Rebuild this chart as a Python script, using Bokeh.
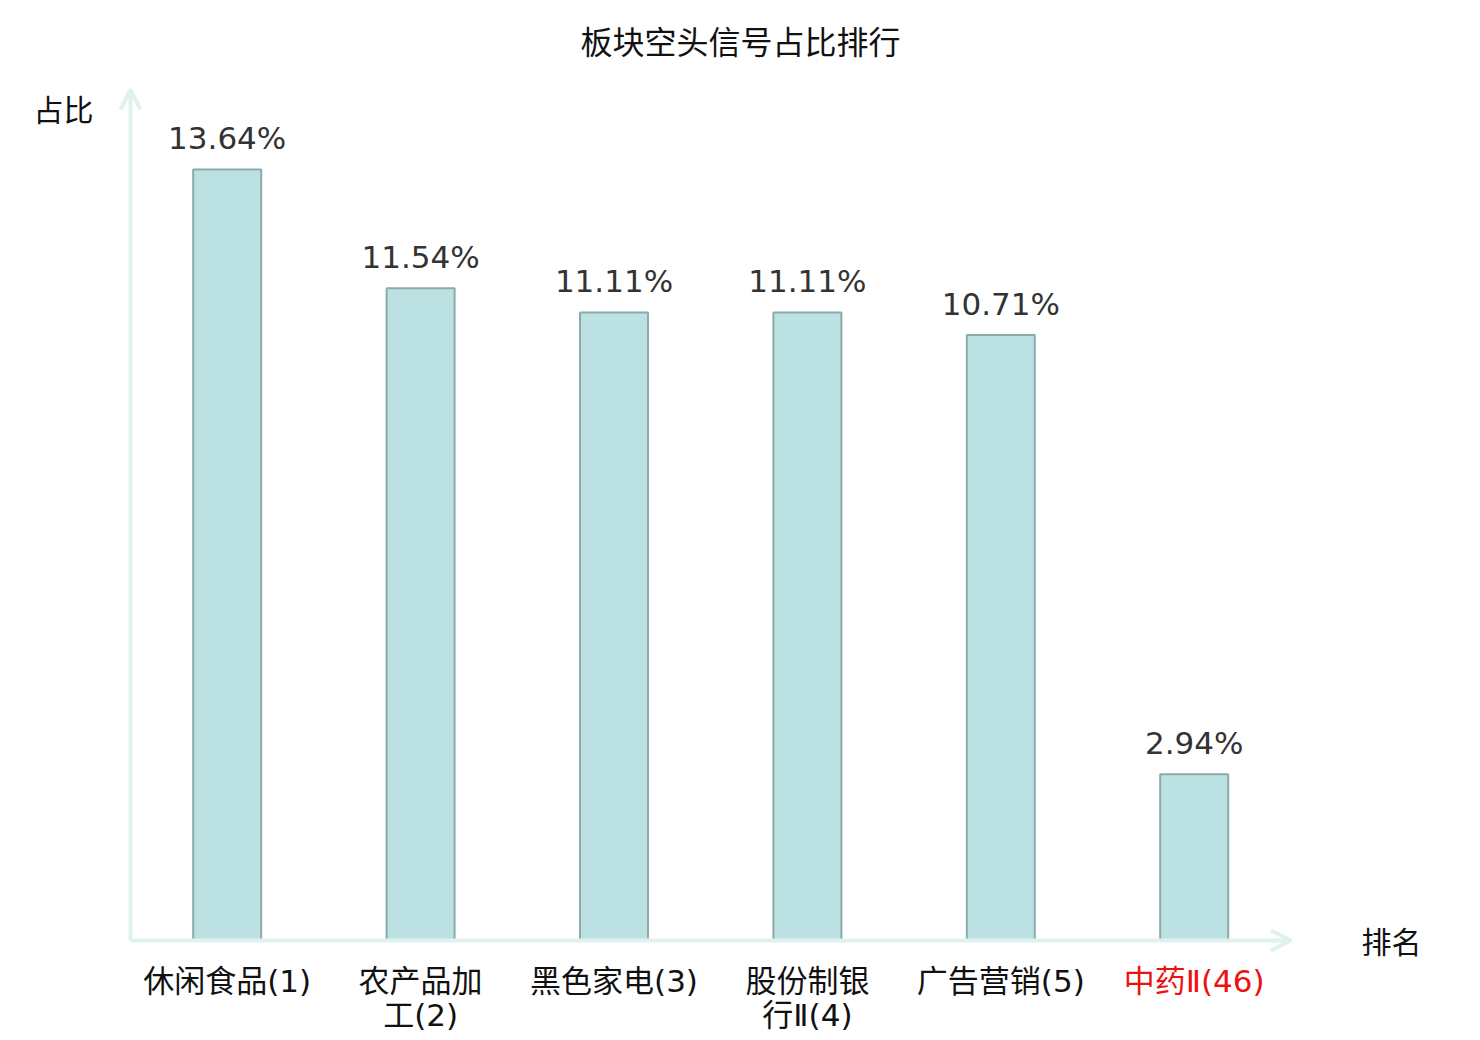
from bokeh.plotting import figure
from bokeh.models import ColumnDataSource, Range1d, Arrow, OpenHead, Label
from bokeh.core.properties import value
from bokeh.embed import file_html
from bokeh.resources import INLINE

categories = ["休闲食品(1)", "农产品加\n工(2)", "黑色家电(3)", "股份制银\n行Ⅱ(4)", "广告营销(5)", "中药Ⅱ(46)"]
values = [13.64, 11.54, 11.11, 11.11, 10.71, 2.94]
value_labels = ["13.64%", "11.54%", "11.11%", "11.11%", "10.71%", "2.94%"]
label_colors = ["#111111", "#111111", "#111111", "#111111", "#111111", "#ee1111"]

W, H = 1476, 1036
UX = 193.4      # px per category
UY = 56.53      # px per percent
X0 = 130        # frame px of x = 0
Y0 = 940        # frame px (from top) of y = 0

xs = [i + 0.5 for i in range(len(categories))]
src = ColumnDataSource(dict(x=xs, top=values, cat=categories, lab=value_labels, col=label_colors))

p = figure(width=W, height=H, output_backend="svg", toolbar_location=None,
           x_axis_type=None, y_axis_type=None, min_border=0,
           x_range=Range1d(-X0 / UX, (W - X0) / UX),
           y_range=Range1d(-(H - Y0) / UY, Y0 / UY))
p.grid.visible = False
p.outline_line_color = None
p.background_fill_color = "white"

FONT = value("DejaVu Sans, Noto Sans CJK SC")
LIGHT = value("DejaVu Sans ExtraLight, DejaVu Sans, Noto Sans CJK SC")
CJK = "Noto Sans CJK SC"
axis_col = "#dff2ef"

# axes as arrows
p.add_layout(Arrow(x_start=0, y_start=0, x_end=0, y_end=15.05, line_color=axis_col, line_width=4,
                   end=OpenHead(size=20, line_color=axis_col, line_width=4)))
p.add_layout(Arrow(x_start=0, y_start=0, x_end=len(categories), y_end=0, line_color=axis_col, line_width=4,
                   end=OpenHead(size=20, line_color=axis_col, line_width=4)))

p.vbar(x="x", top="top", bottom=0, width=68 / UX, source=src,
       fill_color="#bce1e3", line_color="#8caaaa", line_width=2)

p.text(x="x", y="top", text="lab", source=src, text_font=FONT, text_font_size="31px",
       text_color="#333333", text_align="center", text_baseline="alphabetic", y_offset=-31)

p.text(x="x", y=0, text="cat", source=src, text_font=LIGHT, text_font_size="31px",
       text_color="col", text_align="center", text_baseline="top", y_offset=22,
       text_line_height=0.95)

p.add_layout(Label(x=740, y=H - 39, x_units="screen", y_units="screen", text="板块空头信号占比排行",
                   text_font=CJK, text_font_size="32px", text_color="#111111",
                   text_align="center", text_baseline="middle"))
p.add_layout(Label(x=63, y=H - 107, x_units="screen", y_units="screen", text="占比",
                   text_font=CJK, text_font_size="30px", text_color="#111111",
                   text_align="center", text_baseline="middle"))
p.add_layout(Label(x=1391, y=H - 939, x_units="screen", y_units="screen", text="排名",
                   text_font=CJK, text_font_size="30px", text_color="#111111",
                   text_align="center", text_baseline="middle"))

open("out.html", "w").write(file_html(p, INLINE))
